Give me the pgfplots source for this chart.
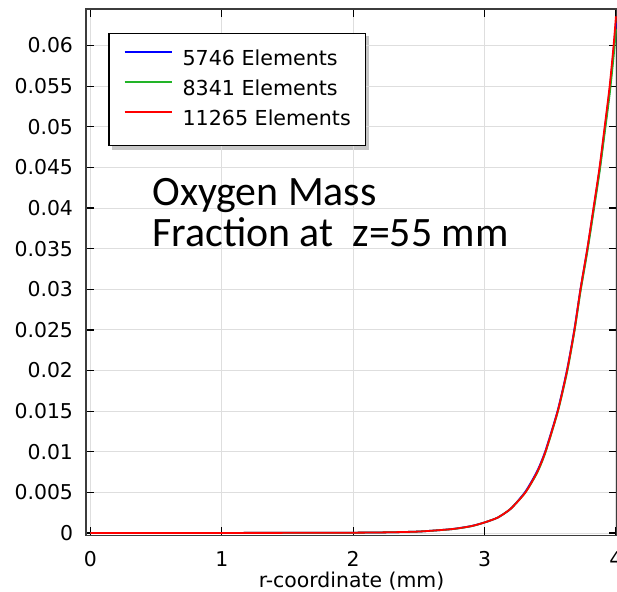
\documentclass[border=0pt]{standalone}
\usepackage{pgfplots}
\pgfplotsset{compat=1.18}
\usepackage{fontspec}
\setmainfont{DejaVu Sans}
\newfontfamily\calib{Carlito}
\usetikzlibrary{backgrounds}
\definecolor{cblue}{RGB}{0,0,255}
\definecolor{cgreen}{RGB}{34,180,40}
\definecolor{cred}{RGB}{255,0,0}
\definecolor{gridc}{RGB}{222,222,222}
\definecolor{axc}{RGB}{60,60,60}
\pgfplotstableread{
r v
0 0.00001
0.5 0.00001
1.0 0.00001
1.5 0.00002
2.0 0.00004
2.25 0.00008
2.5 0.00018
2.75 0.00048
2.9 0.00085
3.0 0.0013
3.1 0.0019
3.2 0.0030
3.311 0.0050
3.4 0.0075
3.463 0.0100
3.557 0.0150
3.628 0.0200
3.684 0.0250
3.730 0.0300
3.782 0.0350
3.829 0.0400
3.875 0.0450
3.914 0.0500
3.952 0.0550
3.982 0.0600
4.0 0.0636
}\redtab
\pgfplotstableread{
r v
0 0.00001
0.5 0.00001
1.0 0.00001
1.5 0.00002
2.0 0.00004
2.25 0.00008
2.5 0.00018
2.75 0.00047
2.9 0.00084
3.0 0.0013
3.1 0.0019
3.2 0.0030
3.311 0.0050
3.4 0.0074
3.463 0.0099
3.557 0.0149
3.628 0.0198
3.684 0.0248
3.730 0.0297
3.782 0.0346
3.829 0.0395
3.875 0.0444
3.914 0.0492
3.952 0.0540
3.982 0.0586
4.0 0.0620
}\greentab
\pgfplotstableread{
r v
0 0.00001
0.5 0.00001
1.0 0.00001
1.5 0.00002
2.0 0.00004
2.25 0.00008
2.5 0.00018
2.75 0.00048
2.9 0.00086
3.0 0.0013
3.1 0.0019
3.2 0.0030
3.311 0.0051
3.4 0.0076
3.463 0.0101
3.557 0.0151
3.628 0.0201
3.684 0.0251
3.730 0.0300
3.782 0.0349
3.829 0.0398
3.875 0.0447
3.914 0.0496
3.952 0.0545
3.982 0.0594
4.0 0.0628
}\bluetab
\begin{document}
\begin{tikzpicture}
\begin{axis}[
  name=ax,
  scale only axis,
  width=265.25pt, height=263pt,
  xmin=-0.033, xmax=4.008,
  ymin=-0.0003, ymax=0.0645,
  xtick={0,1,2,3,4},
  ytick={0,0.005,0.01,0.015,0.02,0.025,0.03,0.035,0.04,0.045,0.05,0.055,0.06},
  scaled y ticks=false,
  yticklabel style={/pgf/number format/fixed, /pgf/number format/precision=3, xshift=-3pt},
  xticklabel style={yshift=-4.4pt},
  /pgf/number format/assume math mode=true,
  tick label style={font=\fontsize{10.2}{12}\selectfont, text=black},
  tick align=inside,
  major tick length=4pt,
  tick style={black, line width=0.6pt},
  axis line style={axc, line width=0.6pt},
  grid=major,
  major grid style={gridc, line width=0.5pt},
  xlabel={r-coordinate (mm)},
  xlabel style={at={(axis description cs:0.5,0)}, anchor=base, yshift=-25.8pt, font=\fontsize{10.2}{12}\selectfont},
  legend cell align=left,
  legend style={name=leg, at={(axis description cs:0.042,0.954)}, anchor=north west,
    draw=black, line width=0.6pt, fill=white,
    font=\fontsize{10.3}{12}\selectfont,
    inner xsep=7.3pt, inner ysep=8.2pt,
    row sep=5.5pt,
    nodes={inner sep=0pt, text height=7.5pt, text depth=2pt},
    /tikz/every odd column/.append style={column sep=5pt}},
  legend image code/.code={\draw[line width=1pt,#1] (0pt,3.7pt) -- (23.5pt,3.7pt);},
]
\addplot[cblue, line width=0.9pt, smooth, tension=0.4] table[x=r,y=v] {\bluetab};
\addlegendentry{5746 Elements}
\addplot[cgreen, line width=0.9pt, smooth, tension=0.4] table[x=r,y=v] {\greentab};
\addlegendentry{8341 Elements}
\addplot[cred, line width=0.9pt, smooth, tension=0.4] table[x=r,y=v] {\redtab};
\addlegendentry{11265 Elements}
\node[anchor=base west, inner sep=0pt, font=\calib\fontsize{20.9}{24}\selectfont] at (axis cs:0.47,0.04036) {Oxygen Mass};
\node[anchor=base west, inner sep=0pt, font=\calib\fontsize{20.9}{24}\selectfont] at (axis cs:0.47,0.03531) {Fraction at\ \ z=55 mm};
\end{axis}
\begin{scope}[on background layer]
\fill[black!22] ([xshift=1.6pt,yshift=-1.6pt]leg.south west) rectangle ([xshift=1.6pt,yshift=-1.6pt]leg.north east);
\end{scope}
\pgfresetboundingbox
\useasboundingbox ([xshift=-43pt,yshift=-28pt]ax.south west) rectangle ([yshift=4.5pt]ax.north east);
\end{tikzpicture}
\end{document}
